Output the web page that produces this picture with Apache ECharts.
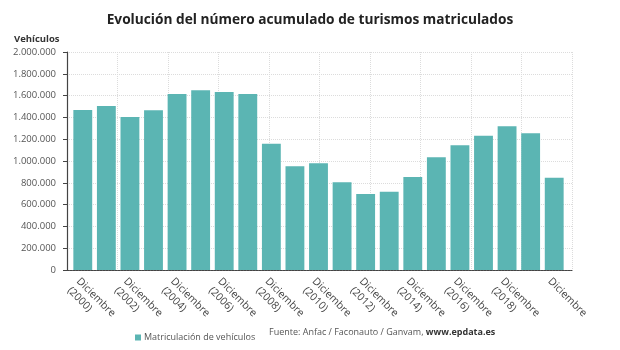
<!DOCTYPE html>
<html>
<head>
<meta charset="utf-8">
<script src="https://cdn.jsdelivr.net/npm/echarts@6/dist/echarts.min.js"></script>
<style>
  html, body { margin: 0; padding: 0; background: #fff; }
  #chart { width: 620px; height: 350px; }
</style>
</head>
<body>
<div id="chart"></div>
<script>
// categorias del eje x (la ultima sin año en el original)
const categorias = [
  'Diciembre (2000)', 'Diciembre (2001)', 'Diciembre (2002)', 'Diciembre (2003)',
  'Diciembre (2004)', 'Diciembre (2005)', 'Diciembre (2006)', 'Diciembre (2007)',
  'Diciembre (2008)', 'Diciembre (2009)', 'Diciembre (2010)', 'Diciembre (2011)',
  'Diciembre (2012)', 'Diciembre (2013)', 'Diciembre (2014)', 'Diciembre (2015)',
  'Diciembre (2016)', 'Diciembre (2017)', 'Diciembre (2018)', 'Diciembre (2019)',
  'Diciembre'
];
// matriculaciones acumuladas
const matriculaciones = [
  1468000, 1505000, 1404000, 1465000, 1615000, 1648000, 1633000, 1615000,
  1159000, 951000, 979000, 805000, 697000, 719000, 853000, 1034000,
  1144000, 1232000, 1318000, 1254000, 847000
];
const yMin = 0, yMax = 2000000, yPaso = 200000;

const fmt = v => String(v).replace(/\B(?=(\d{3})+(?!\d))/g, '.');
const FONT = 'Open Sans';
const gridTop = 52, gridBottom = 80;

const chart = echarts.init(document.getElementById('chart'));
chart.setOption({
  backgroundColor: '#fff',
  textStyle: { fontFamily: FONT },
  title: {
    text: 'Evolución del número acumulado de turismos matriculados',
    left: 'center', top: 8,
    textStyle: { fontFamily: FONT, fontSize: 13.7, fontWeight: 'bold', color: '#222' }
  },
  legend: {
    data: ['Matriculación de vehículos'],
    left: 130, top: 328,
    icon: 'rect', itemWidth: 6, itemHeight: 6, itemGap: 4,
    textStyle: { fontFamily: FONT, fontSize: 9, color: '#555', padding: [0, 0, 0, -2] }
  },
  graphic: [
    { type: 'text', left: 14, top: 34,
      style: { text: 'Vehículos', font: 'bold 9.5px "Open Sans"', fill: '#333' } },
    { type: 'text', left: 269, top: 328,
      style: {
        text: '{a|Fuente: Anfac / Faconauto / Ganvam, }{b|www.epdata.es}',
        rich: {
          a: { fontFamily: FONT, fontSize: 9, fill: '#555' },
          b: { fontFamily: FONT, fontSize: 9, fontWeight: 'bold', fill: '#333' }
        }
      } }
  ],
  grid: [
    { left: 67, right: 48, top: gridTop, bottom: gridBottom },   // marco y rejilla
    { left: 71, right: 54, top: gridTop, bottom: gridBottom }    // barras
  ],
  xAxis: [
    { type: 'value', gridIndex: 0, min: 0, max: 10, interval: 1,
      axisLabel: { show: false }, axisTick: { show: false },
      axisLine: { show: true, onZero: false, lineStyle: { color: '#444', width: 1.2, type: [2, 1] } },
      splitLine: { show: true, lineStyle: { color: '#dcdcdc', type: [1, 1] } } },
    { type: 'category', gridIndex: 1, data: categorias,
      axisLine: { show: false }, axisTick: { show: false },
      axisLabel: {
        interval: 1, rotate: -45, margin: 5,
        align: 'left', verticalAlign: 'top',
        fontFamily: FONT, fontSize: 10.5, color: '#444', lineHeight: 13,
        formatter: v => v.replace(' (', '\n(')
      } }
  ],
  yAxis: [
    { type: 'value', gridIndex: 0, min: yMin, max: yMax, interval: yPaso,
      axisLine: { show: true, lineStyle: { color: '#444', width: 1.2 } },
      axisTick: { show: true, length: 4, lineStyle: { color: '#444' } },
      axisLabel: { fontFamily: FONT, fontSize: 9.5, color: '#555', margin: 11, formatter: fmt },
      splitLine: { show: true, lineStyle: { color: '#dcdcdc', type: [1, 1] } } },
    { type: 'value', gridIndex: 1, min: yMin, max: yMax, show: false,
      splitLine: { show: false } }
  ],
  series: [{
    name: 'Matriculación de vehículos',
    type: 'bar',
    xAxisIndex: 1, yAxisIndex: 1,
    data: matriculaciones,
    barCategoryGap: '20%',
    itemStyle: { color: '#5bb5b3' },
    animation: false
  }],
  animation: false
});
</script>
</body>
</html>
